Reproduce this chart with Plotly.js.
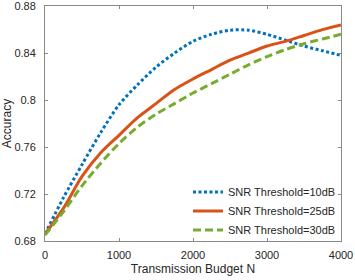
<!DOCTYPE html>
<html>
<head>
<meta charset="utf-8">
<script src="https://cdn.plot.ly/plotly-3.0.1.min.js"></script>
<style>
html,body{margin:0;padding:0;background:#fff;}
#chart{width:355px;height:280px;}
</style>
</head>
<body>
<div id="chart"></div>
<script>
const budgetN = [0, 250, 500, 750, 1000, 1250, 1500, 1750, 2000, 2250, 2500, 2750, 3000, 3250, 3500, 3750, 4000];
const snr10 = [0.686, 0.717, 0.745, 0.772, 0.796, 0.813, 0.828, 0.840, 0.850, 0.856, 0.8595, 0.8595, 0.856, 0.851, 0.846, 0.842, 0.838];
const snr25 = [0.686, 0.708, 0.735, 0.755, 0.770, 0.785, 0.797, 0.809, 0.818, 0.826, 0.834, 0.840, 0.846, 0.850, 0.855, 0.860, 0.864];
const snr30 = [0.685, 0.705, 0.727, 0.746, 0.763, 0.777, 0.788, 0.797, 0.806, 0.814, 0.822, 0.830, 0.837, 0.843, 0.848, 0.852, 0.856];
const seriesNames = ['SNR Threshold=10dB', 'SNR Threshold=25dB', 'SNR Threshold=30dB'];
const xTicks = [0, 1000, 2000, 3000, 4000];
const yTicks = [0.68, 0.72, 0.76, 0.8, 0.84, 0.88];
const yTickText = ['0.68', '0.72', '0.76', '0.8', '0.84', '0.88'];

const traces = [
  {x: budgetN, y: snr10, name: seriesNames[0], mode: 'lines',
   line: {color: '#0072BD', width: 3, dash: '3px,2.5px', shape: 'spline', smoothing: 0.8}},
  {x: budgetN, y: snr25, name: seriesNames[1], mode: 'lines',
   line: {color: '#D95319', width: 3, shape: 'spline', smoothing: 0.8}},
  {x: budgetN, y: snr30, name: seriesNames[2], mode: 'lines',
   line: {color: '#77AC30', width: 3, dash: '8px,4px', shape: 'spline', smoothing: 0.8}}
];

const axisCommon = {
  showline: true, linecolor: '#8a8a8a', linewidth: 1, mirror: 'ticks',
  ticks: 'inside', ticklen: 3, tickcolor: '#8a8a8a', tickwidth: 1,
  showgrid: false, zeroline: false, ticklabeloverflow: 'allow',
  tickfont: {family: 'Liberation Sans, Arial, sans-serif', size: 11, color: '#262626'}
};

const layout = {
  width: 355, height: 280,
  margin: {l: 45, r: 14, t: 6, b: 39},
  paper_bgcolor: '#fff', plot_bgcolor: '#fff',
  font: {family: 'Liberation Sans, Arial, sans-serif', color: '#262626'},
  showlegend: true,
  legend: {x: 1, xanchor: 'right', y: -0.015, yanchor: 'bottom',
    bgcolor: 'rgba(255,255,255,0)', borderwidth: 0,
    font: {size: 11, color: '#262626'}, itemwidth: 30, tracegroupgap: 0},
  xaxis: Object.assign({}, axisCommon, {
    range: [0, 4000], tickvals: xTicks, ticktext: xTicks.map(String),
    ticklabelstandoff: 4,
    title: {text: 'Transmission Budget N', font: {size: 12, color: '#262626'}, standoff: 4}
  }),
  yaxis: Object.assign({}, axisCommon, {
    range: [0.68, 0.8801], tickvals: yTicks, ticktext: yTickText,
    ticklabelstandoff: 6,
    title: {text: 'Accuracy', font: {size: 12, color: '#262626'}, standoff: 5}
  })
};

Plotly.newPlot('chart', traces, layout, {displayModeBar: false, staticPlot: true});
</script>
</body>
</html>
